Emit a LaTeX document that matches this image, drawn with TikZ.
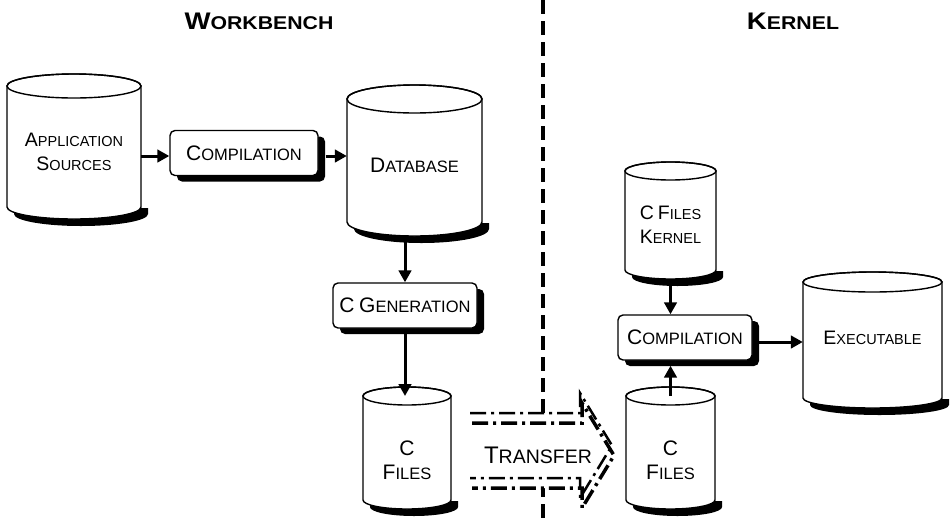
\documentclass[tikz,border=0pt]{standalone}
\usepackage{fontspec}
\setmainfont{Liberation Sans}
\newfontfamily\titlefont{Liberation Sans}[FakeStretch=1.15]
\usetikzlibrary{arrows.meta,shadows}

% size of the capital that opens each small-caps word
\newcommand\bsz{21}
\newcommand\Bg[1]{{\fontsize{\bsz}{\bsz}\selectfont #1}}

\tikzset{
  x=1pt, y=1pt,
  rim/.style={line width=1.4pt},
  flow/.style={line width=3pt, -{Triangle[length=12pt,width=12.5pt]}},
  lblbig/.style={font=\fontsize{16.5}{24}\selectfont\def\bsz{21}, align=center, inner sep=0pt},
  lblsmall/.style={font=\fontsize{14.5}{23.5}\selectfont\def\bsz{19.5}, align=center, inner sep=0pt},
  lblxfer/.style={font=\fontsize{19.5}{24}\selectfont\def\bsz{24}, align=center, inner sep=0pt},
  heading/.style={font=\titlefont\bfseries\fontsize{18.5}{20}\selectfont\def\bsz{24}, inner sep=0pt},
  procbox/.style={draw, rim, fill=white, rounded corners=5pt, inner sep=0pt,
    minimum height=45pt, lblbig,
    drop shadow={shadow xshift=7pt, shadow yshift=-6pt, opacity=1, fill=black}},
  divider/.style={line width=4pt, dash pattern=on 14pt off 7pt},
  xferline/.style={dash pattern=on 16pt off 5pt on 3pt off 5pt},
}

% drum: name, left x, right x, top axis y, bottom axis y, rim radius, label y, label style, label
\newcommand\drum[9]{%
  \pgfmathsetmacro\dcx{(#2+#3)/2}%
  \pgfmathsetmacro\drx{(#3-#2)/2}%
  \pgfmathsetmacro\dw{#3-#2}%
  \pgfmathsetmacro\dh{#5-#4+2*#6}%
  \fill ({#2+7},{-#5-1}) -- ({#2+7},{-#5-7})
    arc[start angle=180,end angle=360,x radius=\drx,y radius=#6]
    -- ({#3+7},{-#5-1}) -- cycle;
  \filldraw[rim, fill=white] (#2,-#4) -- (#2,-#5)
    arc[start angle=180,end angle=360,x radius=\drx,y radius=#6]
    -- (#3,-#4)
    arc[start angle=0,end angle=180,x radius=\drx,y radius=#6] -- cycle;
  \draw[rim] (\dcx,-#4) ellipse[x radius=\drx,y radius=#6];
  \node[inner sep=0pt, minimum width=\dw pt, minimum height=\dh pt] (#1) at (\dcx,{-(#4+#5)/2}) {};
  \coordinate (#1-top) at (\dcx,-#4);
  \node[#8] (#1-t) at (\dcx,-#7) {#9};
}

% outline of the transfer arrow, open at its tail
\newcommand\xferpath{(470,-413) -- (580,-413) -- (580,-393) -- (612,-445.5) -- (580,-498) -- (580,-478) -- (470,-478)}

\begin{document}
\begin{tikzpicture}
\useasboundingbox (0,0) rectangle (951,-520);

% headings and the divide between the two sides
\node[heading] (wb) at (259,-21) {\Bg{W}ORKBENCH};
\node[heading] (kn) at (793,-21) {\Bg{K}ERNEL};
\coordinate (divtop) at (543,0);
\coordinate (divbot) at (543,-520);
\draw[divider] (divtop) -- (divbot);

% stores
\drum{app}{7}{141}{86}{207}{12}{152}{lblsmall}{\Bg{A}PPLICATION\\\Bg{S}OURCES}
\drum{db}{347}{482}{99}{222}{14}{165}{lblbig}{\Bg{D}ATABASE}
\drum{cf}{363}{451}{396}{500}{9}{460}{lblbig}{\Bg{C}\\\Bg{F}ILES}
\drum{kf}{625}{716}{171}{270}{9}{224.5}{lblsmall}{\Bg{C} \Bg{F}ILES\\\Bg{K}ERNEL}
\drum{cfr}{626}{715}{396}{500}{9}{460}{lblbig}{\Bg{C}\\\Bg{F}ILES}
\drum{exe}{803}{942}{282}{398}{10}{338}{lblsmall}{\Bg{E}XECUTABLE}

% processing steps
\node[procbox, minimum width=148pt] (comp1) at (244,-153) {\Bg{C}OMPILATION};
\node[procbox, minimum width=144pt] (cgen) at (405,-305.5) {\Bg{C} \Bg{G}ENERATION};
\node[procbox, minimum width=134pt] (comp2) at (685,-337.5) {\Bg{C}OMPILATION};

% transfer arrow: white ground, shadow copy, then the outline
\fill[white] \xferpath;
\fill[white, shift={(2,-10)}] \xferpath;
\draw[line width=3.5pt, xferline, shift={(2,-10)}] \xferpath;
\draw[line width=2.5pt, xferline] \xferpath;
\node[lblxfer] (xfer) at (538,-455) {\Bg{T}RANSFER};

% workbench flow
\coordinate (c1in) at ([yshift=-3pt]comp1.west);
\coordinate (c1out) at ([xshift=7pt,yshift=-3pt]comp1.east);
\draw[flow] (c1in -| app.east) -- (c1in);
\draw[flow] (c1out) -- (c1out -| db.west);
\draw[flow] (cgen.north |- db.south) -- (cgen.north);
\draw[flow] (cgen.south) -- (cgen.south |- cf-top);

% kernel flow
\coordinate (c2low) at ([yshift=-5pt]comp2.south);
\coordinate (c2out) at ([xshift=5pt,yshift=-4.5pt]comp2.east);
\draw[flow] (kf.south) -- (kf.south |- comp2.north);
\draw[flow] (cfr-top) -- (cfr-top |- c2low);
\draw[flow] (c2out) -- (c2out -| exe.west);
\end{tikzpicture}
\end{document}
